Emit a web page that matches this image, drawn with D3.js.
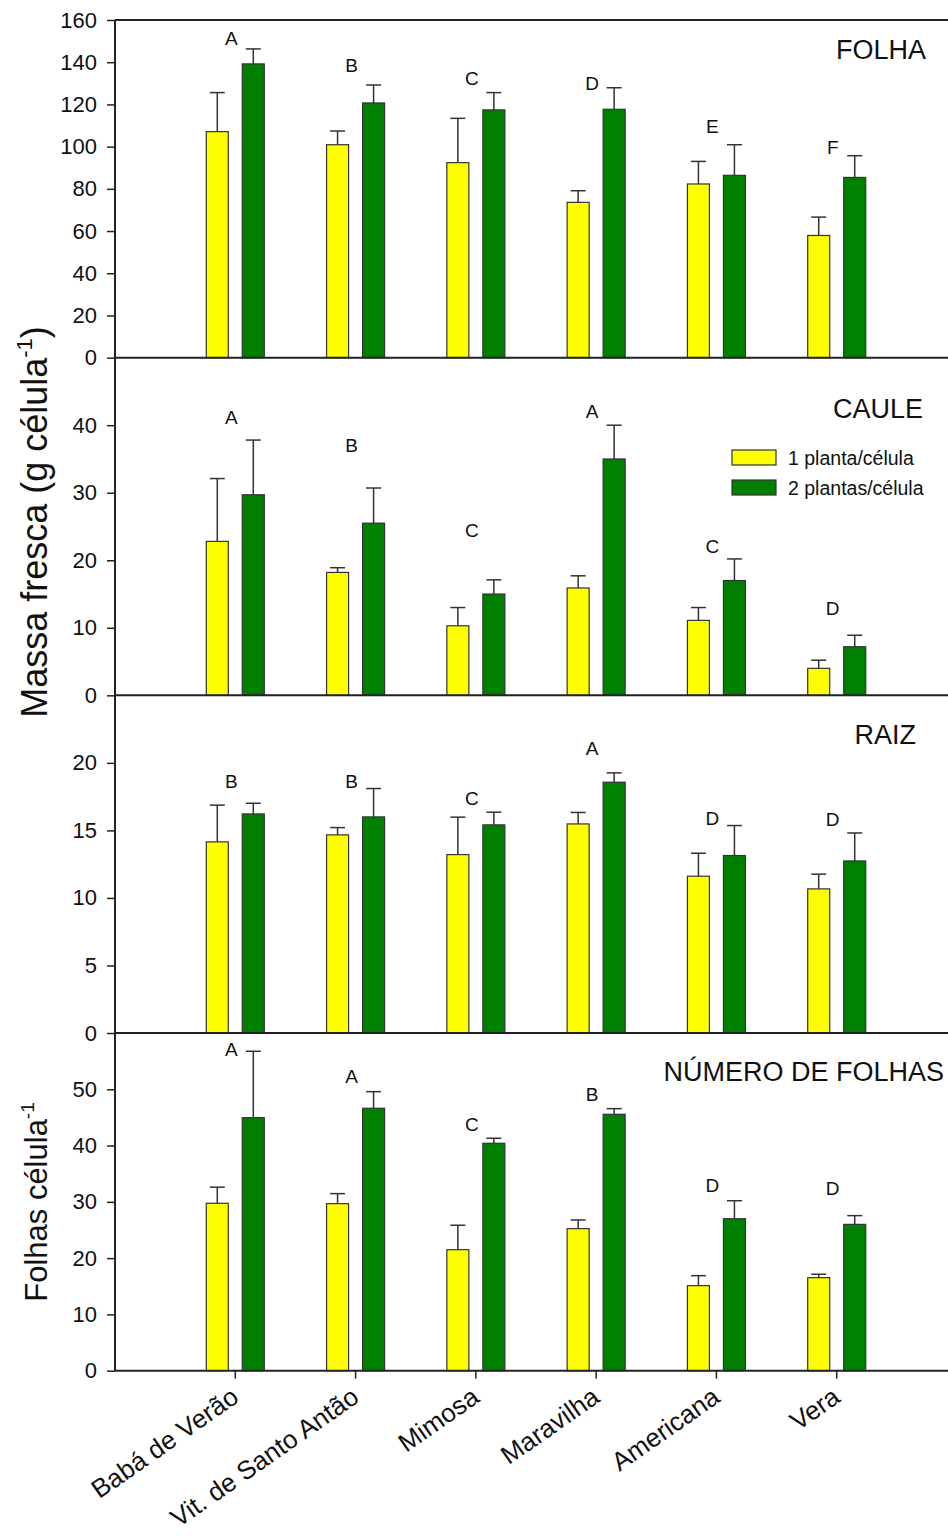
<!DOCTYPE html>
<html>
<head>
<meta charset="utf-8">
<script src="https://cdn.jsdelivr.net/npm/d3@7"></script>
<style>
  body { margin: 0; background: #fff; }
  svg { display: block; font-family: "Liberation Sans", Arial, sans-serif; }
</style>
</head>
<body>
<div id="chart"></div>
<script>
const cultivares = ["Babá de Verão", "Vit. de Santo Antão", "Mimosa", "Maravilha", "Americana", "Vera"];
const seriesNames = ["1 planta/célula", "2 plantas/célula"];
const panelTitles = ["FOLHA", "CAULE", "RAIZ", "NÚMERO DE FOLHAS"];

// FOLHA (g célula-1)
const folha1 = [107.1, 100.9, 92.4, 73.6, 82.3, 57.9];
const folha1Err = [18.5, 6.5, 21.0, 5.5, 10.7, 8.7];
const folha2 = [139.2, 120.7, 117.4, 117.7, 86.4, 85.4];
const folha2Err = [7.1, 8.5, 8.2, 10.2, 14.5, 10.3];
const folhaLetras = ["A", "B", "C", "D", "E", "F"];
const folhaLetrasY = [148.2, 135.5, 129.2, 126.8, 106.3, 96.5];

// CAULE
const caule1 = [22.8, 18.2, 10.3, 15.9, 11.1, 4.0];
const caule1Err = [9.3, 0.7, 2.7, 1.8, 1.9, 1.2];
const caule2 = [29.7, 25.5, 15.0, 35.0, 17.0, 7.2];
const caule2Err = [8.1, 5.2, 2.1, 5.0, 3.2, 1.7];
const cauleLetras = ["A", "B", "C", "A", "C", "D"];
const cauleLetrasY = [40.2, 36.1, 23.5, 41.0, 21.1, 11.9];

// RAIZ
const raiz1 = [14.15, 14.67, 13.21, 15.48, 11.61, 10.67];
const raiz1Err = [2.72, 0.54, 2.77, 0.85, 1.70, 1.09];
const raiz2 = [16.22, 16.0, 15.41, 18.57, 13.14, 12.74];
const raiz2Err = [0.79, 2.1, 0.94, 0.69, 2.22, 2.07];
const raizLetras = ["B", "B", "C", "A", "D", "D"];
const raizLetrasY = [18.15, 18.15, 16.9, 20.6, 15.4, 15.3];

// NÚMERO DE FOLHAS (folhas célula-1)
const numFolhas1 = [29.75, 29.68, 21.5, 25.24, 15.11, 16.53];
const numFolhas1Err = [2.85, 1.78, 4.34, 1.54, 1.77, 0.6];
const numFolhas2 = [44.96, 46.63, 40.41, 45.56, 27.0, 26.0];
const numFolhas2Err = [11.8, 2.95, 0.89, 1.0, 3.2, 1.55];
const numFolhasLetras = ["A", "A", "C", "B", "D", "D"];
const numFolhasLetrasY = [55.9, 51.2, 42.6, 48.0, 31.7, 31.2];

const panels = [
  { title: panelTitles[0], max: 160, ticks: d3.range(0, 161, 20), s1: folha1, e1: folha1Err, s2: folha2, e2: folha2Err, letras: folhaLetras, letrasY: folhaLetrasY, titleX: 926, titleDy: 39 },
  { title: panelTitles[1], max: 50, ticks: d3.range(0, 41, 10), s1: caule1, e1: caule1Err, s2: caule2, e2: caule2Err, letras: cauleLetras, letrasY: cauleLetrasY, titleX: 923, titleDy: 60 },
  { title: panelTitles[2], max: 25, ticks: d3.range(0, 21, 5), s1: raiz1, e1: raiz1Err, s2: raiz2, e2: raiz2Err, letras: raizLetras, letrasY: raizLetrasY, titleX: 916, titleDy: 49 },
  { title: panelTitles[3], max: 60, ticks: d3.range(0, 51, 10), s1: numFolhas1, e1: numFolhas1Err, s2: numFolhas2, e2: numFolhas2Err, letras: numFolhasLetras, letrasY: numFolhasLetrasY, titleX: 944, titleDy: 48 }
];

const width = 948, height = 1536;
const marginLeft = 115, marginTop = 20, panelH = 337.67;
const colors = ["#ffff00", "#008000"];
const axisColor = "#222";

const svg = d3.select("#chart").append("svg")
    .attr("width", width)
    .attr("height", height);

const x = d3.scaleLinear().domain([0, 7]).range([marginLeft, 957]);
const barW = 22, offset = 18, capW = 15;

panels.forEach((p, k) => {
    const y0 = marginTop + panelH * (k + 1);
    const y = d3.scaleLinear().domain([0, p.max]).range([y0, y0 - panelH]);
    const g = svg.append("g");

    [[p.s1, p.e1], [p.s2, p.e2]].forEach(([vals, errs], s) => {
        const cx = (i) => x(i + 1) + (s === 0 ? -offset : offset);

        // error bars (upper only)
        g.selectAll(null)
            .data(vals)
            .enter().append("line")
            .attr("x1", (d, i) => cx(i))
            .attr("x2", (d, i) => cx(i))
            .attr("y1", d => y(d))
            .attr("y2", (d, i) => y(d + errs[i]))
            .attr("stroke", "#333")
            .attr("stroke-width", 1.5);
        g.selectAll(null)
            .data(vals)
            .enter().append("line")
            .attr("x1", (d, i) => cx(i) - capW / 2)
            .attr("x2", (d, i) => cx(i) + capW / 2)
            .attr("y1", (d, i) => y(d + errs[i]))
            .attr("y2", (d, i) => y(d + errs[i]))
            .attr("stroke", "#333")
            .attr("stroke-width", 1.5);

        g.selectAll(null)
            .data(vals)
            .enter().append("rect")
            .attr("x", (d, i) => cx(i) - barW / 2)
            .attr("y", d => y(d))
            .attr("width", barW)
            .attr("height", d => y(0) - y(d))
            .attr("fill", colors[s])
            .attr("stroke", "#333")
            .attr("stroke-width", 1.2);
    });

    g.selectAll(null)
        .data(p.letras)
        .enter().append("text")
        .attr("x", (d, i) => x(i + 1) - 4)
        .attr("y", (d, i) => y(p.letrasY[i]))
        .attr("text-anchor", "middle")
        .attr("font-size", 19)
        .attr("fill", "#111")
        .text(d => d);

    g.append("text")
        .attr("x", p.titleX)
        .attr("y", y0 - panelH + p.titleDy)
        .attr("text-anchor", "end")
        .attr("font-size", 27)
        .attr("fill", "#111")
        .text(p.title);

    // y axis
    const yAxis = d3.axisLeft(y)
        .tickValues(p.ticks)
        .tickSize(8)
        .tickPadding(10)
        .tickFormat(d3.format("d"));
    const ag = svg.append("g")
        .attr("transform", `translate(${marginLeft},0)`)
        .call(yAxis);
    ag.select(".domain").remove();
    ag.selectAll("line").attr("stroke", axisColor).attr("stroke-width", 1.5);
    ag.selectAll("text")
        .attr("font-size", 22)
        .attr("font-family", "Liberation Sans, Arial, sans-serif")
        .attr("fill", "#111");

    // bottom line of panel
    svg.append("line")
        .attr("x1", marginLeft).attr("x2", width)
        .attr("y1", y0).attr("y2", y0)
        .attr("stroke", axisColor)
        .attr("stroke-width", 2);
});

// frame: top line and left axis line
svg.append("line")
    .attr("x1", marginLeft).attr("x2", width)
    .attr("y1", marginTop).attr("y2", marginTop)
    .attr("stroke", axisColor).attr("stroke-width", 2);
svg.append("line")
    .attr("x1", marginLeft).attr("x2", marginLeft)
    .attr("y1", marginTop).attr("y2", marginTop + panelH * 4)
    .attr("stroke", axisColor).attr("stroke-width", 2);

// x axis at the bottom
const bottom = marginTop + panelH * 4;
const xg = svg.append("g");
xg.selectAll(null)
    .data(cultivares)
    .enter().append("line")
    .attr("x1", (d, i) => x(i + 1))
    .attr("x2", (d, i) => x(i + 1))
    .attr("y1", bottom)
    .attr("y2", bottom + 8)
    .attr("stroke", axisColor)
    .attr("stroke-width", 1.5);
xg.selectAll(null)
    .data(cultivares)
    .enter().append("text")
    .attr("transform", (d, i) => `translate(${x(i + 1) + 5},${bottom + 30}) rotate(-35)`)
    .attr("text-anchor", "end")
    .attr("font-size", 26)
    .attr("fill", "#111")
    .text(d => d);

// legend (in CAULE panel)
const legend = svg.append("g");
seriesNames.forEach((name, s) => {
    legend.append("rect")
        .attr("x", 732).attr("y", 450 + s * 30)
        .attr("width", 44).attr("height", 15)
        .attr("fill", colors[s])
        .attr("stroke", "#333").attr("stroke-width", 1.2);
    legend.append("text")
        .attr("x", 788).attr("y", 465 + s * 29.5)
        .attr("font-size", 19.5)
        .attr("fill", "#111")
        .text(name);
});

// y axis titles
const t1 = svg.append("text")
    .attr("transform", `translate(47,522) rotate(-90)`)
    .attr("text-anchor", "middle")
    .attr("font-size", 36)
    .attr("fill", "#111");
t1.append("tspan").text("Massa fresca (g célula");
t1.append("tspan").attr("font-size", 22).attr("dy", -15).text("-1");
t1.append("tspan").attr("dy", 15).text(")");

const t2 = svg.append("text")
    .attr("transform", `translate(47,1202) rotate(-90)`)
    .attr("text-anchor", "middle")
    .attr("font-size", 31)
    .attr("fill", "#111");
t2.append("tspan").text("Folhas célula");
t2.append("tspan").attr("font-size", 19).attr("dy", -13).text("-1");
</script>
</body>
</html>
